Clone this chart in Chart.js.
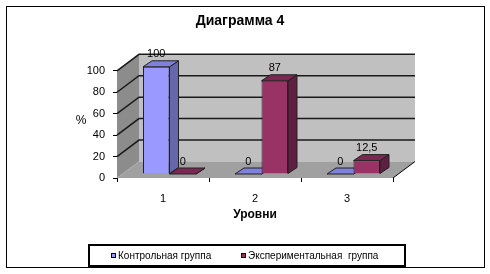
<!DOCTYPE html>
<html><head><meta charset="utf-8">
<script src="https://cdn.jsdelivr.net/npm/chart.js@4.4.0/dist/chart.umd.min.js"></script>
<style>html,body{margin:0;padding:0;background:#fff}canvas{display:block}</style>
</head><body>
<canvas id="c" width="490" height="274"></canvas>
<script>
const categories = ['1', '2', '3'];
const seriesNames = ['Контрольная группа', 'Экспериментальная  группа'];
const controlValues = [100, 0, 0];
const experimentalValues = [0, 87, 12.5];
const yTicks = [0, 20, 40, 60, 80, 100];
const chartTitle = 'Диаграмма 4';
const xTitle = 'Уровни';
const yTitle = '%';

const FONT = 'Arial, "Liberation Sans", sans-serif';
const FRONT = ['#9999FF', '#993366'];
const SIDE = ['#6666AA', '#5E1F40'];
const TOP = ['#8080DD', '#7A2852'];
const DX = 22, DY = -16.5;   // back wall depth offset
const BX = 6.5, BY = -4;     // bar row depth offset
const SX = 9, SY = -6;       // bar thickness

const threeD = {
  id: 'threeD',
  beforeDatasetsDraw(chart) {
    const {ctx, chartArea: a, scales: {y}} = chart;
    const L = a.left, R = a.right, T = y.getPixelForValue(100), B = y.getPixelForValue(0);
    ctx.save();
    // back wall
    ctx.fillStyle = '#C0C0C0';
    ctx.fillRect(L + DX, T + DY, R - L, B - T);
    // left wall
    ctx.fillStyle = '#8C8C8C';
    ctx.beginPath();
    ctx.moveTo(L, B); ctx.lineTo(L, T); ctx.lineTo(L + DX, T + DY); ctx.lineTo(L + DX, B + DY); ctx.closePath(); ctx.fill();
    // floor
    ctx.fillStyle = '#A0A0A0';
    ctx.beginPath();
    ctx.moveTo(L, B); ctx.lineTo(R, B); ctx.lineTo(R + DX, B + DY); ctx.lineTo(L + DX, B + DY); ctx.closePath(); ctx.fill();
    // gridlines
    ctx.strokeStyle = '#1a1a1a'; ctx.lineWidth = 1.5;
    yTicks.forEach(v => {
      if (v === 0) return;
      const py = y.getPixelForValue(v);
      ctx.beginPath();
      ctx.moveTo(L, py); ctx.lineTo(L + DX, py + DY); ctx.lineTo(R + DX, py + DY);
      ctx.stroke();
    });
    // floor right edge
    ctx.lineWidth = 1; ctx.strokeStyle = '#000';
    ctx.beginPath(); ctx.moveTo(R, B); ctx.lineTo(R + DX, B + DY); ctx.stroke();
    // bar sides and tops
    ctx.translate(BX, BY);
    ctx.strokeStyle = '#222'; ctx.lineWidth = 1;
    chart.data.datasets.forEach((ds, i) => {
      chart.getDatasetMeta(i).data.forEach(bar => {
        const p = bar.getProps(['x', 'y', 'base', 'width'], true);
        const l = p.x - p.width / 2, r = p.x + p.width / 2;
        ctx.fillStyle = SIDE[i];
        ctx.beginPath();
        ctx.moveTo(r, p.y); ctx.lineTo(r + SX, p.y + SY); ctx.lineTo(r + SX, p.base + SY); ctx.lineTo(r, p.base); ctx.closePath();
        ctx.fill(); ctx.stroke();
        ctx.fillStyle = TOP[i];
        ctx.beginPath();
        ctx.moveTo(l, p.y); ctx.lineTo(r, p.y); ctx.lineTo(r + SX, p.y + SY); ctx.lineTo(l + SX, p.y + SY); ctx.closePath();
        ctx.fill(); ctx.stroke();
      });
    });
    // keep translation for bar fronts
  },
  afterDatasetsDraw(chart) {
    const {ctx} = chart;
    ctx.restore();
    ctx.save();
    ctx.font = '11px ' + FONT;
    ctx.fillStyle = '#000';
    ctx.textAlign = 'center'; ctx.textBaseline = 'middle';
    chart.data.datasets.forEach((ds, i) => {
      chart.getDatasetMeta(i).data.forEach((bar, j) => {
        const p = bar.getProps(['x', 'y'], true);
        ctx.fillText(String(ds.data[j]).replace('.', ','), p.x + BX, p.y + BY - 12.5);
      });
    });
    // y title
    ctx.font = '12px ' + FONT;
    ctx.fillText(yTitle, 81, 121);
    ctx.restore();
  },
  afterDraw(chart) {
    const {ctx} = chart;
    ctx.save();
    ctx.strokeStyle = '#000'; ctx.lineWidth = 1;
    ctx.strokeRect(6.5, 6.5, 478, 261);
    // legend box
    ctx.lineWidth = 2;
    ctx.strokeRect(89, 245, 316, 21);
    const lx = [111, 241];
    ctx.font = '10px ' + FONT;
    ctx.textBaseline = 'middle'; ctx.textAlign = 'left';
    chart.data.datasets.forEach((ds, i) => {
      ctx.fillStyle = ds.backgroundColor;
      ctx.fillRect(lx[i], 253, 5, 5);
      ctx.lineWidth = 1; ctx.strokeStyle = '#000';
      ctx.strokeRect(lx[i] + 0.5, 253.5, 4, 4);
      ctx.fillStyle = '#000';
      ctx.fillText(ds.label, lx[i] + 7, 256);
    });
    ctx.restore();
  }
};

new Chart(document.getElementById('c'), {
  type: 'bar',
  data: {
    labels: categories,
    datasets: [
      {label: seriesNames[0], data: controlValues, backgroundColor: FRONT[0], borderColor: '#222', borderWidth: 1, clip: false},
      {label: seriesNames[1], data: experimentalValues, backgroundColor: FRONT[1], borderColor: '#222', borderWidth: 1, clip: false}
    ]
  },
  options: {
    responsive: false, animation: false, devicePixelRatio: 1, clip: false,
    layout: {padding: {left: 87, right: 97, top: 0, bottom: 52}},
    datasets: {bar: {categoryPercentage: 0.576, barPercentage: 1}},
    plugins: {
      legend: {display: false},
      tooltip: {enabled: false},
      title: {display: true, text: chartTitle, color: '#000', font: {family: FONT, size: 14, weight: 'bold'}, padding: {top: 13, bottom: 41}}
    },
    scales: {
      y: {
        min: 0, max: 100,
        afterBuildTicks: s => { s.ticks = yTicks.map(v => ({value: v})); },
        afterFit: s => { s.width = 30; },
        ticks: {color: '#000', font: {family: FONT, size: 11}, padding: 8},
        grid: {drawOnChartArea: false, drawTicks: true, tickLength: 4, color: '#000'},
        border: {display: false}
      },
      x: {
        afterFit: s => { s.height = 44; },
        ticks: {color: '#000', font: {family: FONT, size: 11}, padding: 10},
        grid: {offset: true, drawOnChartArea: false, drawTicks: true, tickLength: 4, color: '#000'},
        border: {display: false},
        title: {display: true, text: xTitle, color: '#000', font: {family: FONT, size: 12, weight: 'bold'}, padding: 0}
      }
    }
  },
  plugins: [threeD]
});
</script>
</body></html>
